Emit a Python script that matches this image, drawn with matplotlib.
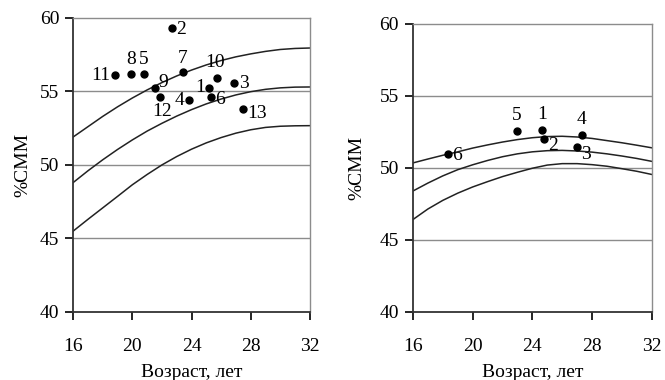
import matplotlib.pyplot as plt

plt.rcParams['font.family'] = ['Liberation Serif', 'DejaVu Serif']

# возраст для кривых
vozrast = list(range(16, 33))

# левая панель: кривые
lev_verh = [51.9, 52.6, 53.3, 53.95, 54.55, 55.1, 55.6, 56.05, 56.45, 56.8, 57.1, 57.35, 57.55, 57.72, 57.85, 57.92, 57.95]
lev_sred = [48.8, 49.6, 50.35, 51.05, 51.7, 52.3, 52.83, 53.32, 53.76, 54.15, 54.48, 54.76, 54.98, 55.14, 55.24, 55.29, 55.3]
lev_niz = [45.5, 46.3, 47.08, 47.86, 48.65, 49.35, 50.0, 50.57, 51.07, 51.5, 51.86, 52.16, 52.39, 52.55, 52.63, 52.66, 52.67]

# левая панель: точки
lev_nom = ["1", "2", "3", "4", "5", "6", "7", "8", "9", "10", "11", "12", "13"]
lev_x = [25.2, 22.7, 26.9, 23.8, 20.8, 25.3, 23.4, 19.9, 21.5, 25.7, 18.8, 21.9, 27.5]
lev_y = [55.2, 59.3, 55.6, 54.4, 56.2, 54.65, 56.3, 56.2, 55.2, 55.9, 56.1, 54.6, 53.8]

# правая панель: кривые
prav_verh = [50.35, 50.62, 50.88, 51.12, 51.38, 51.6, 51.8, 51.97, 52.1, 52.18, 52.2, 52.15, 52.05, 51.9, 51.75, 51.58, 51.4]
prav_sred = [48.4, 48.95, 49.45, 49.88, 50.22, 50.52, 50.78, 50.98, 51.12, 51.2, 51.22, 51.18, 51.1, 50.98, 50.83, 50.66, 50.46]
prav_niz = [46.42, 47.15, 47.75, 48.25, 48.68, 49.05, 49.4, 49.7, 49.98, 50.2, 50.3, 50.3, 50.23, 50.12, 49.95, 49.77, 49.55]

# правая панель: точки
prav_nom = ["1", "2", "3", "4", "5", "6"]
prav_x = [24.63, 24.79, 26.98, 27.31, 22.96, 18.32]
prav_y = [52.65, 52.03, 51.43, 52.26, 52.59, 50.99]

# куда ставить подписи точек: (dx, dy, ha, va) в пунктах
sdvig_lev = {
    "1": (-3, 1, "right", "center"), "2": (3, -1, "left", "center"),
    "3": (3, -1, "left", "center"), "4": (-3, 0, "right", "center"),
    "5": (0, 4, "center", "bottom"), "6": (3, -2, "left", "center"),
    "7": (0, 4, "center", "bottom"), "8": (0, 4, "center", "bottom"),
    "9": (3, 4, "left", "center"), "10": (-1, 5, "center", "bottom"),
    "11": (-3, 0, "right", "center"), "12": (1, -4, "center", "top"),
    "13": (3, -3, "left", "center"),
}
sdvig_prav = {
    "1": (0, 5, "center", "bottom"), "2": (3, -5, "left", "center"),
    "3": (3, -5, "left", "center"), "4": (0, 5, "center", "bottom"),
    "5": (0, 5, "center", "bottom"), "6": (3, -1, "left", "center"),
}


def panel(ax, verh, sred, niz, nom, xs, ys, sdvig, ypad):
    for yy in [45, 50, 55]:
        ax.axhline(yy, color="#8c8c8c", lw=1.0, zorder=1)
    for kriv in (verh, sred, niz):
        ax.plot(vozrast, kriv, color="#222222", lw=1.1, zorder=2)
    ax.plot(xs, ys, "o", color="black", ms=5, zorder=3)
    for n, x, y in zip(nom, xs, ys):
        dx, dy, ha, va = sdvig[n]
        ax.annotate(n, (x, y), xytext=(dx, dy), textcoords="offset points",
                    ha=ha, va=va, fontsize=14, zorder=4)
    ax.set_xlim(16, 32)
    ax.set_ylim(40, 60)
    ax.set_xticks([16, 20, 24, 28, 32])
    ax.set_yticks([40, 45, 50, 55, 60])
    ax.tick_params(axis="x", direction="out", length=6, width=1.2, pad=13, labelsize=14)
    ax.tick_params(axis="y", direction="out", length=6, width=1.2, pad=4, labelsize=14)
    for s in ("left", "bottom"):
        ax.spines[s].set_color("#333333")
        ax.spines[s].set_linewidth(1.3)
    for s in ("top", "right"):
        ax.spines[s].set_color("#8c8c8c")
        ax.spines[s].set_linewidth(1.0)
    ax.set_xlabel("Возраст, лет", fontsize=14, labelpad=6)
    ax.set_ylabel("%CMM", fontsize=14, labelpad=ypad)


fig = plt.figure(figsize=(6.65, 3.8), dpi=100)
ax1 = fig.add_axes([0.110, 0.179, 0.356, 0.774])
ax2 = fig.add_axes([0.621, 0.179, 0.359, 0.758])

panel(ax1, lev_verh, lev_sred, lev_niz, lev_nom, lev_x, lev_y, sdvig_lev, 6)
panel(ax2, prav_verh, prav_sred, prav_niz, prav_nom, prav_x, prav_y, sdvig_prav, 10)

fig.savefig("out.png", dpi=100)
